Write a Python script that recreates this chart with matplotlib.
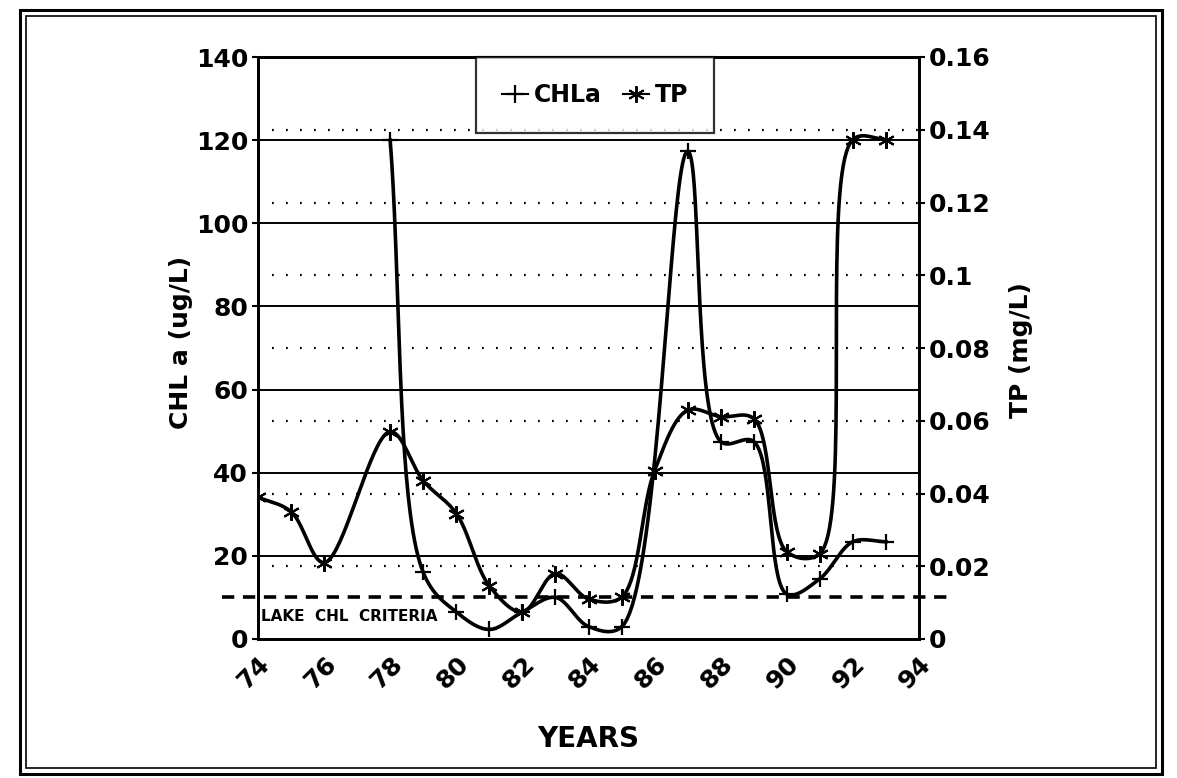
import numpy as np
import matplotlib
matplotlib.use('Agg')
import matplotlib.pyplot as plt
from matplotlib.lines import Line2D
from matplotlib.patches import Rectangle

# values
tp_years = [74, 75, 76, 78, 79, 80, 81, 82, 83, 84, 85, 86, 87, 88, 89, 90, 91, 92, 93]
tp_vals = [0.039, 0.035, 0.021, 0.057, 0.0435, 0.0345, 0.0146, 0.0074, 0.018, 0.011,
           0.0115, 0.0463, 0.0629, 0.0611, 0.0606, 0.024, 0.0235, 0.1373, 0.1373]
chl_years = [78, 79, 80, 81, 82, 83, 84, 85, 87, 88, 89, 90, 91, 92, 93]
chl_vals = [120, 16, 6.5, 2.3, 6.5, 10, 3, 2.9, 117.3, 47.5, 47.5, 10.8, 14.5, 23.4, 23.4]
criteria = 10
year_ticks = list(range(74, 95, 2))
chl_ticks = list(range(0, 141, 20))
tp_ticks = [0, 0.02, 0.04, 0.06, 0.08, 0.1, 0.12, 0.14, 0.16]
tp_labels = ['0', '0.02', '0.04', '0.06', '0.08', '0.1', '0.12', '0.14', '0.16']


def smooth(xs, ys, sx, sy, n=40):
	# centripetal catmull-rom through the points, done in screen-like units
	P = np.column_stack([np.asarray(xs, float) * sx, np.asarray(ys, float) * sy])
	P = np.vstack([2 * P[0] - P[1], P, 2 * P[-1] - P[-2]])
	out = []
	for i in range(len(P) - 3):
		p0, p1, p2, p3 = P[i:i + 4]
		t0 = 0.0
		t1 = t0 + np.linalg.norm(p1 - p0) ** 0.5
		t2 = t1 + np.linalg.norm(p2 - p1) ** 0.5
		t3 = t2 + np.linalg.norm(p3 - p2) ** 0.5
		t = np.linspace(t1, t2, n)[:, None]
		A1 = (t1 - t) / (t1 - t0) * p0 + (t - t0) / (t1 - t0) * p1
		A2 = (t2 - t) / (t2 - t1) * p1 + (t - t1) / (t2 - t1) * p2
		A3 = (t3 - t) / (t3 - t2) * p2 + (t - t2) / (t3 - t2) * p3
		B1 = (t2 - t) / (t2 - t0) * A1 + (t - t0) / (t2 - t0) * A2
		B2 = (t3 - t) / (t3 - t1) * A2 + (t - t1) / (t3 - t1) * A3
		C = (t2 - t) / (t2 - t1) * B1 + (t - t1) / (t2 - t1) * B2
		out.append(C)
	C = np.vstack(out)
	return C[:, 0] / sx, C[:, 1] / sy


plt.rcParams['font.family'] = 'DejaVu Sans'
plt.rcParams['font.weight'] = 'bold'

fig = plt.figure(figsize=(11.77, 7.78), dpi=100)
W, H = 1177.0, 778.0

# double frame round the page
fig.patches.append(Rectangle((20 / W, 4 / H), 1142 / W, 764 / H, transform=fig.transFigure,
                             fill=False, lw=2.2, ec='black'))
fig.patches.append(Rectangle((26 / W, 10 / H), 1130 / W, 752 / H, transform=fig.transFigure,
                             fill=False, lw=1.2, ec='black'))

ax = fig.add_axes([258 / W, 1 - 639 / H, 661 / W, 582 / H])
ax2 = ax.twinx()

ax.set_xlim(74, 94)
ax.set_ylim(0, 140)
ax2.set_ylim(0, 0.16)

px_year = 661 / 20.0
# gridlines
for v in chl_ticks[1:-1]:
	ax.axhline(v, color='black', lw=1.4, zorder=1)
for v in tp_ticks[1:-1]:
	ax2.axhline(v, color='black', lw=1.6, ls=(0, (0.8, 5.5)), zorder=1)

# lake criteria
ax.plot([72.9, 95.0], [criteria, criteria], color='black', lw=2.6, ls=(0, (3.4, 2.4)),
        clip_on=False, zorder=2)
ax.text(74.1, 5.5, 'LAKE  CHL  CRITERIA', fontsize=11, fontweight='bold', va='center',
        ha='left', zorder=3)

cx, cy = smooth(chl_years, chl_vals, px_year, 582 / 140.0)
ax.plot(cx, cy, color='black', lw=2.6, zorder=4)
ax.plot(chl_years, chl_vals, ls='none', marker='+', ms=12, mew=1.6, color='black', zorder=5)

tx, ty = smooth(tp_years, tp_vals, px_year, 582 / 0.16)
ax2.plot(tx, ty, color='black', lw=2.6, zorder=4)
ax2.plot(tp_years, tp_vals, ls='none', marker=(6, 2, 0), ms=12, mew=1.5, color='black', zorder=5)

for a in (ax, ax2):
	for s in a.spines.values():
		s.set_linewidth(2.0)

ax.set_xticks(year_ticks)
ax.set_xticklabels([str(y) for y in year_ticks], rotation=45, ha='right', va='top',
                   rotation_mode='anchor', fontsize=18, fontweight='bold')
ax.tick_params(axis='x', length=0, pad=9)
ax.set_yticks(chl_ticks)
ax.set_yticklabels([str(v) for v in chl_ticks], fontsize=18, fontweight='bold')
ax.tick_params(axis='y', length=4, width=1.5, pad=3)
ax2.set_yticks(tp_ticks)
ax2.set_yticklabels(tp_labels, fontsize=18, fontweight='bold')
ax2.tick_params(axis='y', length=4, width=1.5, pad=3)

ax.set_xlabel('YEARS', fontsize=20, fontweight='bold')
ax.xaxis.set_label_coords(0.5, -0.148)
ax.set_ylabel('CHL a (ug/L)', fontsize=18, fontweight='bold')
ax.yaxis.set_label_coords(-0.098, 0.509)
ax2.set_ylabel('TP (mg/L)', fontsize=18, fontweight='bold')
ax2.yaxis.set_label_coords(1.136, 0.497)

handles = [Line2D([], [], color='black', lw=1.5, marker='+', ms=13, mew=1.6),
           Line2D([], [], color='black', lw=1.5, marker=(6, 2, 0), ms=12, mew=1.4)]
leg = ax2.legend(handles, ['CHLa', 'TP'], loc='upper center', bbox_to_anchor=(0.51, 1.0),
                 ncol=2, fontsize=17, frameon=True, fancybox=False, handlelength=1.1,
                 handletextpad=0.25, columnspacing=0.9, borderpad=1.1, borderaxespad=0.0)
leg.get_frame().set_edgecolor('black')
leg.get_frame().set_linewidth(1.6)
leg.set_zorder(6)

fig.savefig('out.png', dpi=100)
